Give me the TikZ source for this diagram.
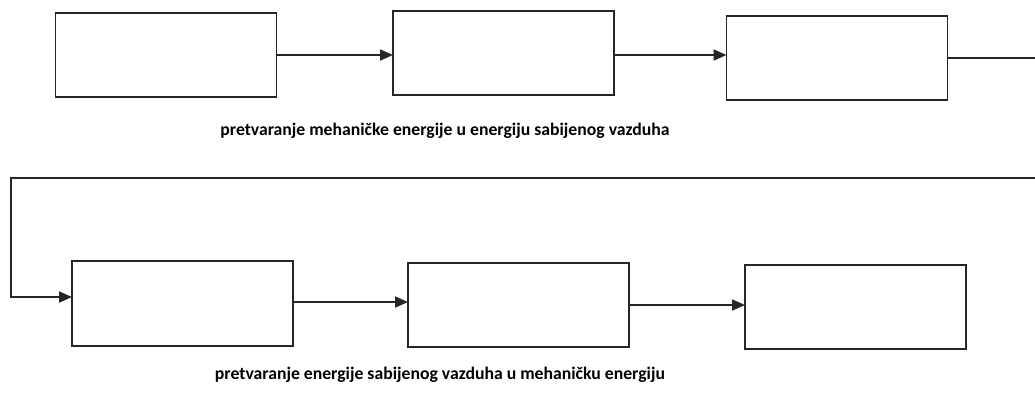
\documentclass[tikz,border=0pt]{standalone}
\usepackage{fontspec}
\setmainfont{Carlito}
\usetikzlibrary{arrows.meta,calc}
\begin{document}
\begin{tikzpicture}[x=1pt,y=-1pt,
  box/.style={draw=black!85,line width=1.8pt,minimum width=221pt,minimum height=84pt,inner sep=0pt,outer sep=0pt},
  conn/.style={draw=black!85,line width=1.8pt},
  arr/.style={conn,-{Triangle[length=13pt,width=11pt]}},
  lbl/.style={font=\bfseries\fontsize{17.7}{20}\selectfont,inner sep=0pt}]
\useasboundingbox (0,0) rectangle (1035,392);
\node[box] (b1) at (166,55) {};
\node[box] (b2) at (503.5,53) {};
\node[box] (b3) at (837,58) {};
\node[box,minimum height=85pt] (b4) at (182.5,303.5) {};
\node[box] (b5) at (518.5,305) {};
\node[box] (b6) at (855.5,307) {};
\coordinate (r1) at (1035,58);
\coordinate (r2a) at (1035,178);
\coordinate (r2b) at (11,178);
\coordinate (r2c) at (11,297);
\draw[arr] (b1.east) -- (b1.east -| b2.west);
\draw[arr] ($(b2.east)+(0,2)$) -- ($(b2.east -| b3.west)+(0,2)$);
\draw[conn] (b3.east) -- (r1);
\draw[arr] (r2a) -- (r2b) -- (r2c) -- (r2c -| b4.west);
\draw[arr] ($(b4.east)+(0,-1.5)$) -- ($(b4.east -| b5.west)+(0,-1.5)$);
\draw[arr] (b5.east) -- (b5.east -| b6.west);
\node[lbl] (t1) at (445,131) {pretvaranje mehaničke energije u energiju sabijenog vazduha};
\node[lbl] (t2) at (440,375) {pretvaranje energije sabijenog vazduha u mehaničku energiju};
\end{tikzpicture}
\end{document}
